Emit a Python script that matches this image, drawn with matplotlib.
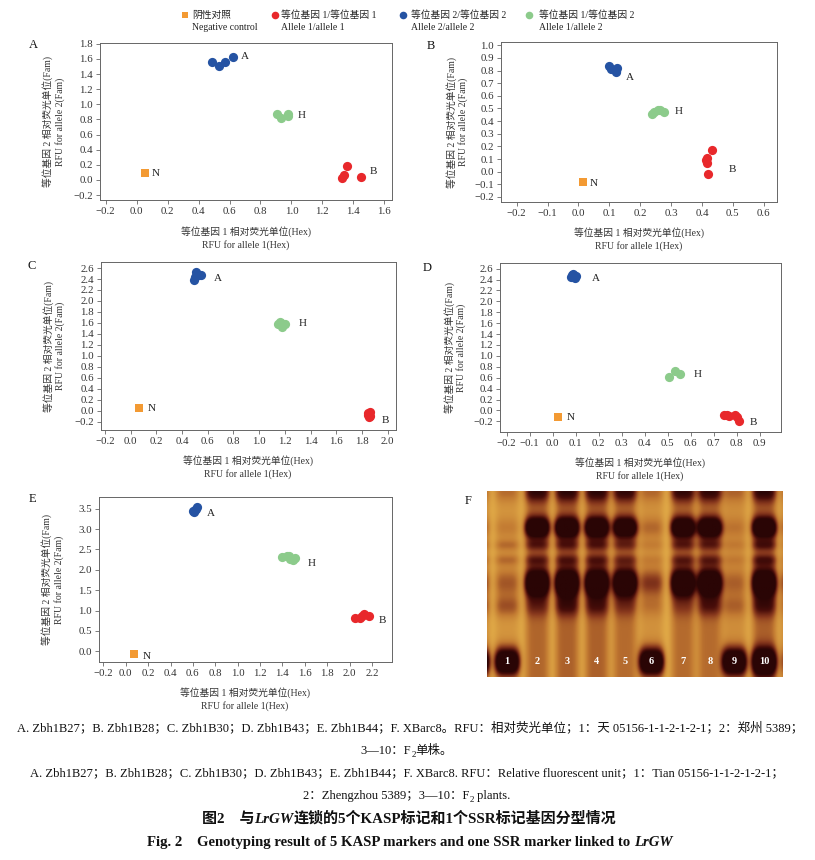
import numpy as np
import matplotlib
matplotlib.use('Agg')
import matplotlib.pyplot as plt
from matplotlib.ticker import FuncFormatter
from matplotlib.colors import LinearSegmentedColormap

plt.rcParams['font.family'] = ['Liberation Serif', 'Noto Sans CJK SC']

ORANGE = '#f39a33'
RED = '#e8282b'
BLUE = '#2553a3'
GREEN = '#8ccb8b'

# ---- KASP data (x = RFU allele 1 / Hex, y = RFU allele 2 / Fam) ----
# panel A  Zbh1B27
a_neg_x, a_neg_y = [0.055], [0.09]
a_blue_x, a_blue_y = [0.49, 0.53, 0.57, 0.62], [1.56, 1.50, 1.56, 1.62]
a_green_x, a_green_y = [0.91, 0.93, 0.98, 0.98], [0.87, 0.82, 0.87, 0.85]
a_red_x, a_red_y = [1.33, 1.34, 1.36, 1.45], [0.03, 0.07, 0.18, 0.04]
# panel B  Zbh1B28
b_neg_x, b_neg_y = [0.014], [-0.08]
b_blue_x, b_blue_y = [0.100, 0.105, 0.120, 0.125, 0.122], [0.84, 0.81, 0.80, 0.82, 0.79]
b_green_x, b_green_y = [0.238, 0.246, 0.258, 0.265, 0.276], [0.46, 0.47, 0.49, 0.485, 0.47]
b_red_x, b_red_y = [0.413, 0.415, 0.416, 0.434, 0.420], [0.09, 0.11, 0.07, 0.17, -0.02]
# panel C  Zbh1B30
c_neg_x, c_neg_y = [0.065], [0.04]
c_blue_x, c_blue_y = [0.49, 0.51, 0.53, 0.55, 0.50, 0.52], [2.38, 2.52, 2.48, 2.48, 2.44, 2.50]
c_green_x, c_green_y = [1.15, 1.16, 1.18, 1.20, 1.17], [1.58, 1.62, 1.53, 1.58, 1.60]
c_red_x, c_red_y = [1.85, 1.86, 1.85, 1.86, 1.855], [-0.05, -0.10, -0.08, -0.03, -0.12]
# panel D  Zbh1B43
d_neg_x, d_neg_y = [0.025], [-0.13]
d_blue_x, d_blue_y = [0.080, 0.090, 0.100, 0.085, 0.095, 0.088], [2.44, 2.50, 2.46, 2.48, 2.43, 2.46]
d_green_x, d_green_y = [0.504, 0.530, 0.552], [0.61, 0.73, 0.66]
d_red_x, d_red_y = [0.745, 0.760, 0.765, 0.795, 0.800, 0.810], [-0.08, -0.09, -0.10, -0.09, -0.12, -0.19]
# panel E  Zbh1B44
e_neg_x, e_neg_y = [0.077], [-0.06]
e_blue_x, e_blue_y = [0.60, 0.62, 0.64, 0.63, 0.61], [3.44, 3.47, 3.55, 3.50, 3.42]
e_green_x, e_green_y = [1.40, 1.44, 1.46, 1.49, 1.51, 1.47], [2.31, 2.33, 2.34, 2.24, 2.29, 2.27]
e_red_x, e_red_y = [2.05, 2.095, 2.13, 2.17, 2.11], [0.83, 0.83, 0.92, 0.87, 0.86]

# ---- SSR gel (XBarc8), relative band darkness per lane ----
lane_names = ['', '1', '2', '3', '4', '5', '6', '7', '8', '9', '10', '']
lane_pos = [-0.035, 0.067, 0.169, 0.270, 0.371, 0.466, 0.556, 0.663, 0.753, 0.837, 0.938, 1.035]
lane_body = [0.2, 0.12, 0.34, 0.36, 0.36, 0.32, 0.14, 0.32, 0.32, 0.16, 0.36, 0.2]
top_band = [0.2, 0.2, 0.6, 0.6, 0.6, 0.6, 0.2, 0.6, 0.6, 0.2, 0.6, 0.2]
upper_band = [0.2, 0.1, 1.0, 1.0, 1.0, 0.95, 0.15, 1.0, 1.0, 0.1, 1.0, 0.2]
ladder_band = [0.2, 0.2, 0.35, 0.35, 0.35, 0.3, 0.1, 0.35, 0.35, 0.1, 0.4, 0.1]
lower_band = [0.3, 0.2, 1.0, 1.0, 1.0, 1.0, 0.3, 1.0, 1.0, 0.15, 1.0, 0.3]
low_smear = [0.35, 0.3, 0.3, 0.45, 0.4, 0.25, 0.15, 0.2, 0.4, 0.2, 0.45, 0.2]
bottom_band = [1.0, 1.0, 0.0, 0.0, 0.0, 0.0, 1.0, 0.0, 0.0, 1.0, 1.0, 0.3]

W, H = 815, 860
fig = plt.figure(figsize=(W / 100, H / 100), dpi=100)


def px_axes(l, t, r, b):
    return fig.add_axes([l / W, 1 - b / H, (r - l) / W, (b - t) / H])


def minus_fmt(v, pos):
    return ('%.1f' % v).replace('-', '\u2212')


def draw_panel(ax, neg, blue, green, red, xlim, ylim, xticks, yticks, offs):
    ax.scatter(neg[0], neg[1], s=30, marker='s', c=ORANGE, linewidths=0, zorder=3)
    ax.scatter(blue[0], blue[1], s=44, c=BLUE, linewidths=0, zorder=3)
    ax.scatter(green[0], green[1], s=44, c=GREEN, linewidths=0, zorder=3)
    ax.scatter(red[0], red[1], s=44, c=RED, linewidths=0, zorder=3)
    for (xs, ys), lab, off in zip([blue, green, red, neg], ['A', 'H', 'B', 'N'], offs):
        ax.annotate(lab, xy=(max(xs), np.mean(ys)), xytext=off, textcoords='offset points',
                    ha='left', va='center', fontsize=8, color='#222222')
    ax.set_xlim(*xlim)
    ax.set_ylim(*ylim)
    ax.set_xticks(xticks)
    ax.set_yticks(yticks)
    ax.xaxis.set_major_formatter(FuncFormatter(minus_fmt))
    ax.yaxis.set_major_formatter(FuncFormatter(minus_fmt))
    ax.tick_params(labelsize=7.8, length=3, width=0.6, color='#666666', pad=2,
                   labelcolor='#333333')
    for sp in ax.spines.values():
        sp.set_color('#666666')
        sp.set_linewidth(0.7)
    ax.text(-0.178, 0.5, '等位基因 2 相对荧光单位(Fam)', transform=ax.transAxes,
            rotation=90, ha='center', va='center', fontsize=7, color='#333333')
    ax.text(-0.138, 0.5, 'RFU for allele 2(Fam)', transform=ax.transAxes,
            rotation=90, ha='center', va='center', fontsize=7, color='#333333')


axA = px_axes(100, 43, 392, 200)
draw_panel(axA, (a_neg_x, a_neg_y), (a_blue_x, a_blue_y), (a_green_x, a_green_y), (a_red_x, a_red_y),
           (-0.237, 1.65), (-0.266, 1.81), np.arange(-0.2, 1.61, 0.2), np.arange(-0.2, 1.81, 0.2),
           [(6, 4), (7, 0), (6, 2), (5, 0)])
axB = px_axes(501, 42, 777, 202)
draw_panel(axB, (b_neg_x, b_neg_y), (b_blue_x, b_blue_y), (b_green_x, b_green_y), (b_red_x, b_red_y),
           (-0.251, 0.643), (-0.24, 1.026), np.arange(-0.2, 0.61, 0.1), np.arange(-0.2, 1.01, 0.1),
           [(6, -6), (8, 0), (12, -6), (5, -1)])
axC = px_axes(101, 262, 396, 430)
draw_panel(axC, (c_neg_x, c_neg_y), (c_blue_x, c_blue_y), (c_green_x, c_green_y), (c_red_x, c_red_y),
           (-0.231, 2.065), (-0.352, 2.71), np.arange(-0.2, 2.01, 0.2), np.arange(-0.2, 2.61, 0.2),
           [(9, -2), (10, 0), (9, -4), (6, 0)])
axD = px_axes(500, 263, 781, 432)
draw_panel(axD, (d_neg_x, d_neg_y), (d_blue_x, d_blue_y), (d_green_x, d_green_y), (d_red_x, d_red_y),
           (-0.229, 0.993), (-0.396, 2.704), np.arange(-0.2, 0.91, 0.1), np.arange(-0.2, 2.61, 0.2),
           [(12, -2), (10, 0), (8, -4), (6, 0)])
axE = px_axes(99, 497, 392, 662)
draw_panel(axE, (e_neg_x, e_neg_y), (e_blue_x, e_blue_y), (e_green_x, e_green_y), (e_red_x, e_red_y),
           (-0.239, 2.379), (-0.26, 3.785), np.arange(-0.2, 2.21, 0.2), np.arange(0.0, 3.51, 0.5),
           [(7, -3), (9, -4), (7, -3), (6, -2)])

# ---- gel image ----
axF = px_axes(487, 491, 783, 677)
gx = np.linspace(0, 1, 300)
gy = np.linspace(0, 1, 190)
X, Y = np.meshgrid(gx, gy)
dark = np.full(X.shape, 0.04)


def vband(c, s):
    return np.exp(-0.5 * ((Y - c) / s) ** 2)


for i, lx in enumerate(lane_pos):
    prof = np.exp(-((X - lx) / 0.042) ** 4)
    col = (lane_body[i]
           + top_band[i] * vband(0.0, 0.04)
           + upper_band[i] * 1.3 * vband(0.195, 0.038)
           + ladder_band[i] * (vband(0.29, 0.022) + vband(0.37, 0.022))
           + lower_band[i] * 1.4 * vband(0.495, 0.05)
           + low_smear[i] * vband(0.62, 0.04)
           + bottom_band[i] * 1.5 * vband(0.92, 0.05))
    dark += prof * col
dark = np.clip(dark, 0, 1)
gel_cmap = LinearSegmentedColormap.from_list(
    'gel', [(0, '#e8b54c'), (0.3, '#c27a32'), (0.55, '#8a3a1e'), (0.8, '#4a0e0a'), (1, '#2a0505')])
axF.imshow(dark, cmap=gel_cmap, vmin=0, vmax=1, aspect='auto', extent=[0, 1, 1, 0],
           interpolation='bilinear')
for i, lx in enumerate(lane_pos):
    if lane_names[i]:
        axF.text(lx, 0.915, lane_names[i], ha='center', va='center', color='white',
                 fontsize=7.5, fontweight='bold')
axF.set_xlim(0, 1)
axF.set_ylim(1, 0)
axF.axis('off')

# ---- overlay for pixel-placed text ----
ov = fig.add_axes([0, 0, 1, 1])
ov.set_xlim(0, W)
ov.set_ylim(H, 0)
ov.axis('off')

# legend
leg_marker = ['s', 'o', 'o', 'o']
leg_color = [ORANGE, RED, BLUE, GREEN]
leg_mx = [185, 275, 403, 529]
leg_tx = [192, 281, 411, 539]
leg_cn = ['阴性对照', '等位基因 1/等位基因 1', '等位基因 2/等位基因 2', '等位基因 1/等位基因 2']
leg_en = ['Negative control', 'Allele 1/allele 1', 'Allele 2/allele 2', 'Allele 1/allele 2']
for m, c, mx, tx, cn, en in zip(leg_marker, leg_color, leg_mx, leg_tx, leg_cn, leg_en):
    ov.scatter([mx], [15], marker=m, s=22 if m == 's' else 30, c=c, linewidths=0)
    ov.text(tx, 15, cn, ha='left', va='center', fontsize=7, color='#222222')
    ov.text(tx, 27.5, en, ha='left', va='center', fontsize=7, color='#222222')

# panel letters
for lab, x, y in [('A', 33, 45), ('B', 431, 46), ('C', 32, 266), ('D', 427, 268),
                  ('E', 32, 499), ('F', 468, 501)]:
    ov.text(x, y, lab, ha='center', va='center', fontsize=9, color='#111111')

# x axis labels
for cx, y1 in [(246, 232), (639, 233), (248, 461), (640, 463), (245, 693)]:
    ov.text(cx, y1, '等位基因 1 相对荧光单位(Hex)', ha='center', va='center', fontsize=7, color='#333333')
    ov.text(cx, y1 + 13, 'RFU for allele 1(Hex)', ha='center', va='center', fontsize=7, color='#333333')

renderer = fig.canvas.get_renderer()


def runs(cx, y, parts, size):
    # parts: (text, dict) drawn one after another on a shared baseline, centred on cx
    objs = []
    total = 0
    for s, kw in parts:
        kw = dict(kw)
        dy = kw.pop('dy', 0)
        fs = kw.pop('fs', size)
        t = ov.text(0, y + size * 0.45 + dy, s, ha='left', va='baseline', fontsize=fs,
                    color='#111111', **kw)
        w = t.get_window_extent(renderer).width
        objs.append((t, w))
        total += w
    x = cx - total / 2
    for t, w in objs:
        t.set_x(x)
        x += w


CAP = 9
runs(410, 727, [('A. Zbh1B27；B. Zbh1B28；C. Zbh1B30；D. Zbh1B43；E. Zbh1B44；F. XBarc8。RFU：相对荧光单位；1：天 05156-1-1-2-1-2-1；2：郑州 5389；', {})], CAP)
runs(407, 750, [('3—10：F', {}), ('2', {'fs': 6.5, 'dy': 2.5}), ('单株。', {})], CAP)
runs(407, 772, [('A. Zbh1B27；B. Zbh1B28；C. Zbh1B30；D. Zbh1B43；E. Zbh1B44；F. XBarc8. RFU：Relative fluorescent unit；1：Tian 05156-1-1-2-1-2-1；', {})], CAP)
runs(407, 795, [('2：Zhengzhou 5389；3—10：F', {}), ('2', {'fs': 6.5, 'dy': 2.5}), (' plants.', {})], CAP)
runs(409, 818, [('图2　与', {'fontweight': 'bold'}), ('LrGW', {'fontweight': 'bold', 'fontstyle': 'italic'}),
                ('连锁的5个KASP标记和1个SSR标记基因分型情况', {'fontweight': 'bold'})], 10.8)
runs(410, 841, [('Fig. 2　Genotyping result of 5 KASP markers and one SSR marker linked to ', {'fontweight': 'bold'}),
                ('LrGW', {'fontweight': 'bold', 'fontstyle': 'italic'})], 10.6)

fig.savefig('out.png', dpi=100)
